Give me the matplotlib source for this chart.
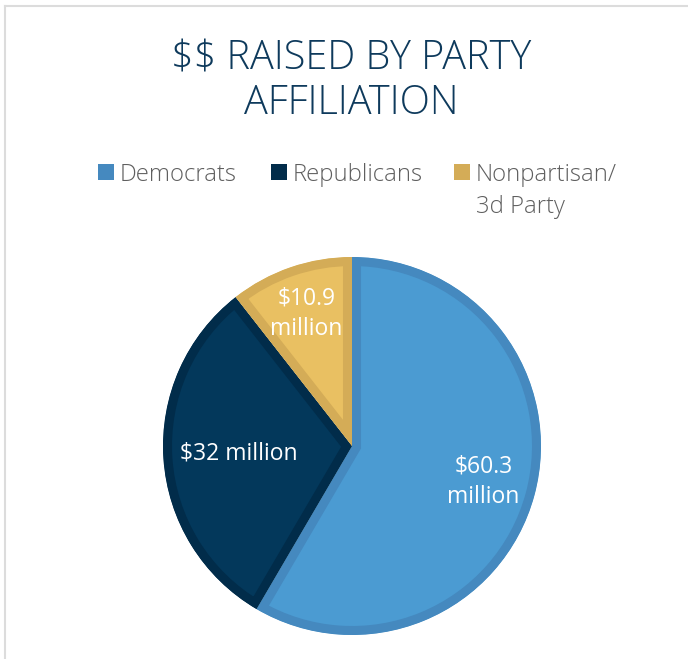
import numpy as np
import matplotlib.pyplot as plt
from matplotlib.lines import Line2D
from matplotlib.patches import Rectangle

parties = ['Democrats', 'Republicans', 'Nonpartisan/\n3d Party']
raised = [60.3, 32, 10.9]
value_labels = ['$60.3\nmillion', '$32 million', '$10.9\nmillion']

fills = ['#4B9BD2', '#03385B', '#E9C062']
edges = ['#4589BF', '#012C4A', '#D4AC57']
label_r = [0.72, 0.60, 0.74]

plt.rcParams['font.family'] = ['Open Sans', 'DejaVu Sans']

W, H = 688, 659
fig = plt.figure(figsize=(W / 100, H / 100), dpi=100)

# pie centre (352, 446) px, radius 189 px
cx, cy, r = 352, 446, 189
ax = fig.add_axes([(cx - r) / W, (H - cy - r) / H, 2 * r / W, 2 * r / H])
wedges, _ = ax.pie(raised, colors=fills, startangle=90, counterclock=False,
                   radius=1.0, wedgeprops=dict(linewidth=13))
for w, ec in zip(wedges, edges):
    w.set_edgecolor(ec)
    w.set_clip_path(w)  # keep the thick border inside each slice
    w.set_clip_on(True)
ax.set_xlim(-1, 1)
ax.set_ylim(-1, 1)
ax.set_aspect('equal')
ax.axis('off')

for w, txt, rr in zip(wedges, value_labels, label_r):
    ang = np.deg2rad((w.theta1 + w.theta2) / 2)
    ax.text(rr * np.cos(ang), rr * np.sin(ang), txt, ha='center', va='center',
            color='white', fontsize=16.5, linespacing=1.35, parse_math=False)

fig.text(351 / W, 1 - 81 / H, '$$ RAISED BY PARTY\nAFFILIATION', ha='center',
         va='center', fontsize=28.5, color='#0E3A5C', linespacing=1.12,
         weight='light', parse_math=False)

# legend: square + label, first lines on one row
sq_x = [98, 271, 454]
leg_y = 172
for x, name, col in zip(sq_x, parties, edges):
    fig.add_artist(Rectangle((x / W, (H - leg_y - 8) / H), 16 / W, 16 / H,
                             transform=fig.transFigure, facecolor=col,
                             edgecolor='none'))
    first, *rest = name.split('\n')
    fig.text((x + 22) / W, 1 - leg_y / H, first, ha='left', va='center_baseline',
             fontsize=17.2, color='#5F5F5F', weight='light')
    for i, line in enumerate(rest, start=1):
        fig.text((x + 22) / W, 1 - (leg_y + 32 * i) / H, line, ha='left',
                 va='center_baseline', fontsize=17.2, color='#5F5F5F',
                 weight='light')

# light frame on top and left
fig.add_artist(Line2D([5 / W, 5 / W], [0, 1 - 6 / H], transform=fig.transFigure,
                      color='#DCDCDC', lw=1.5))
fig.add_artist(Line2D([5 / W, 1], [1 - 6 / H, 1 - 6 / H], transform=fig.transFigure,
                      color='#DCDCDC', lw=1.5))

fig.savefig('out.png', dpi=100)
